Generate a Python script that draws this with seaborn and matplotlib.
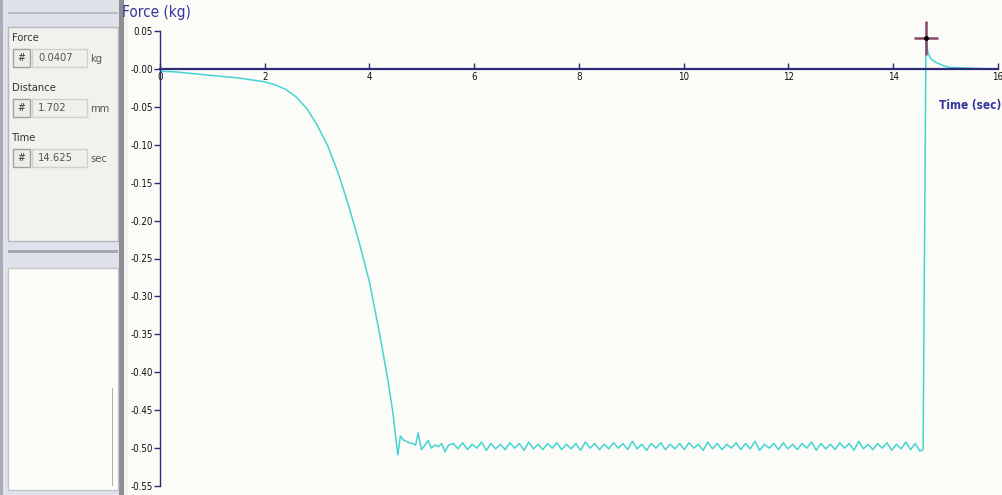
import numpy as np
import pandas as pd
import seaborn as sns
import matplotlib.pyplot as plt
from matplotlib import font_manager
from matplotlib.patches import Rectangle

# --- data ---
# loading ramp + first settling wiggles
ramp_t = [0.00, 0.30, 0.60, 0.90, 1.20, 1.50, 1.80, 2.00, 2.20, 2.40, 2.60, 2.80, 3.00,
          3.20, 3.40, 3.60, 3.80, 4.00, 4.20, 4.35, 4.45, 4.54,
          4.59, 4.64, 4.70, 4.76, 4.82, 4.88, 4.93, 4.99, 5.05, 5.12, 5.18, 5.25, 5.32,
          5.38, 5.44, 5.51]
ramp_f = [-0.003, -0.004, -0.006, -0.008, -0.010, -0.012, -0.015, -0.017, -0.021, -0.027,
          -0.037, -0.052, -0.074, -0.101, -0.137, -0.180, -0.228, -0.281, -0.352, -0.410,
          -0.455, -0.509,
          -0.484, -0.489, -0.491, -0.493, -0.494, -0.496, -0.480, -0.502, -0.497, -0.490,
          -0.500, -0.496, -0.498, -0.494, -0.505, -0.496]

# steady hold, sampled every 0.09 s from 5.60 s
hold_start, hold_step = 5.60, 0.09
hold_f = [
    -0.494, -0.501, -0.493, -0.502, -0.495, -0.500, -0.492, -0.503, -0.494, -0.501,
    -0.495, -0.502, -0.493, -0.500, -0.494, -0.503, -0.492, -0.501, -0.495, -0.502,
    -0.494, -0.500, -0.493, -0.502, -0.495, -0.501, -0.494, -0.503, -0.492, -0.500,
    -0.494, -0.502, -0.495, -0.501, -0.493, -0.500, -0.494, -0.502, -0.491, -0.501,
    -0.495, -0.503, -0.494, -0.500, -0.493, -0.502, -0.495, -0.501, -0.494, -0.502,
    -0.493, -0.500, -0.495, -0.503, -0.492, -0.501, -0.494, -0.502, -0.495, -0.500,
    -0.493, -0.502, -0.494, -0.501, -0.491, -0.503, -0.495, -0.500, -0.494, -0.502,
    -0.493, -0.501, -0.495, -0.502, -0.494, -0.500, -0.492, -0.503, -0.494, -0.501,
    -0.495, -0.502, -0.493, -0.500, -0.494, -0.503, -0.491, -0.501, -0.495, -0.502,
    -0.494, -0.500, -0.493, -0.503, -0.495, -0.501, -0.492, -0.502, -0.494, -0.504,
]

# release spike and decay
release_t = [14.57, 14.625, 14.66, 14.72, 14.80, 14.97, 15.08, 15.84]
release_f = [-0.502, 0.0407, 0.022, 0.013, 0.009, 0.004, 0.002, 0.000]

cursor_t, cursor_f = 14.625, 0.0407

x_ticks = [0, 2, 4, 6, 8, 10, 12, 14, 16]
y_ticks = [0.05, 0.00, -0.05, -0.10, -0.15, -0.20, -0.25, -0.30, -0.35, -0.40, -0.45, -0.50, -0.55]
y_labels = ["0.05", "-0.00", "-0.05", "-0.10", "-0.15", "-0.20", "-0.25", "-0.30",
            "-0.35", "-0.40", "-0.45", "-0.50", "-0.55"]

readouts = [("Force", "0.0407", "kg"), ("Distance", "1.702", "mm"), ("Time", "14.625", "sec")]

hold_t = list(hold_start + hold_step * np.arange(len(hold_f)))
df = pd.DataFrame({"time": ramp_t + hold_t + release_t,
                   "force": ramp_f + hold_f + release_f})

# --- style ---
sns.set_style("ticks")
installed = {f.name for f in font_manager.fontManager.ttflist}
if "Liberation Sans Narrow" in installed:
    plt.rcParams["font.family"] = ["Liberation Sans Narrow", "DejaVu Sans"]
else:
    plt.rcParams["font.family"] = ["DejaVu Sans"]
    plt.rcParams["font.stretch"] = "condensed"

navy = "#2b2b78"
label_blue = "#3535a0"
cyan = "#45d4d1"
bg = "#fbfbf7"

fig = plt.figure(figsize=(10.03, 4.95), dpi=100, facecolor=bg)
W, H = 1003, 495

ax = fig.add_axes([160 / W, (H - 486) / H, 838 / W, 455 / H])
ax.set_facecolor(bg)
sns.lineplot(data=df, x="time", y="force", ax=ax, color=cyan, lw=1.1,
             estimator=None, sort=False)
# cursor cross
ax.plot([cursor_t], [cursor_f], marker="_", ms=17, mew=1.8, color="#8a4868", zorder=5,
        clip_on=False)
ax.plot([cursor_t], [cursor_f], marker="|", ms=24, mew=1.8, color="#8a4868", zorder=5,
        clip_on=False)
ax.plot([cursor_t], [cursor_f], marker="o", ms=2.5, color="black", zorder=6, clip_on=False)

ax.set_xlim(0, 16)
ax.set_ylim(-0.55, 0.05)
for s in ["top", "right"]:
    ax.spines[s].set_visible(False)
ax.spines["left"].set_color(navy)
ax.spines["left"].set_linewidth(1.0)
ax.spines["bottom"].set_position(("data", 0))
ax.spines["bottom"].set_color(navy)
ax.spines["bottom"].set_linewidth(1.6)

ax.set_xticks(x_ticks)
ax.set_xticklabels([str(v) for v in x_ticks])
ax.set_yticks(y_ticks)
ax.set_yticklabels(y_labels)
ax.tick_params(axis="x", direction="in", length=4, width=1, color=navy, labelsize=7,
               pad=2, labelcolor="#111111")
ax.tick_params(axis="y", direction="out", length=4, width=1, color=navy, labelsize=7,
               pad=1, labelcolor="#111111")
ax.set_xlabel("")
ax.set_ylabel("")

fig.text(122 / W, 1 - 13 / H, "Force (kg)", color=label_blue, fontsize=11, va="center",
         ha="left")
fig.text(1001 / W, 1 - 106 / H, "Time (sec)", color=label_blue, fontsize=8.5, va="center",
         ha="right", fontweight="bold")

# --- left readout panel (pixel coordinates) ---
pn = fig.add_axes([0, 0, 128 / W, 1])
pn.set_xlim(0, 128)
pn.set_ylim(H, 0)
pn.axis("off")


def box(x, y, w, h, fc, ec="none", lw=1.0):
    pn.add_patch(Rectangle((x, y), w, h, facecolor=fc, edgecolor=ec, lw=lw))


box(0, 0, 128, H, "#dfe2ea")
box(0, 0, 3, H, "#a9acb4")
box(119, 0, 9, H, "#f4f4f1")
box(119, 0, 5, H, "#8c8e94")
box(8, 12, 110, 2, "#b9bcc4")
box(8, 27, 110, 214, "#f1f1ee", "#b6b8be")
box(8, 250, 110, 3, "#a5a8b0")
box(8, 268, 110, 222, "#fdfdf8", "#c2c4ca")
box(112, 388, 1, 98, "#b0b0b0")

for i, (name, val, unit) in enumerate(readouts):
    y0 = 38 + i * 50
    pn.text(12, y0, name, fontsize=8, color="#333333", va="center", ha="left")
    box(13, y0 + 11, 17, 18, "#ecece8", "#a0a0a0")
    pn.text(21.5, y0 + 20, "#", fontsize=7.5, color="#333333", va="center", ha="center")
    box(32, y0 + 11, 55, 18, "#efefeb", "#d0d0d0")
    pn.text(38, y0 + 20, val, fontsize=8, color="#555555", va="center", ha="left")
    pn.text(90, y0 + 21, unit, fontsize=8, color="#555555", va="center", ha="left")

fig.savefig("out.png", dpi=100, facecolor=bg)
